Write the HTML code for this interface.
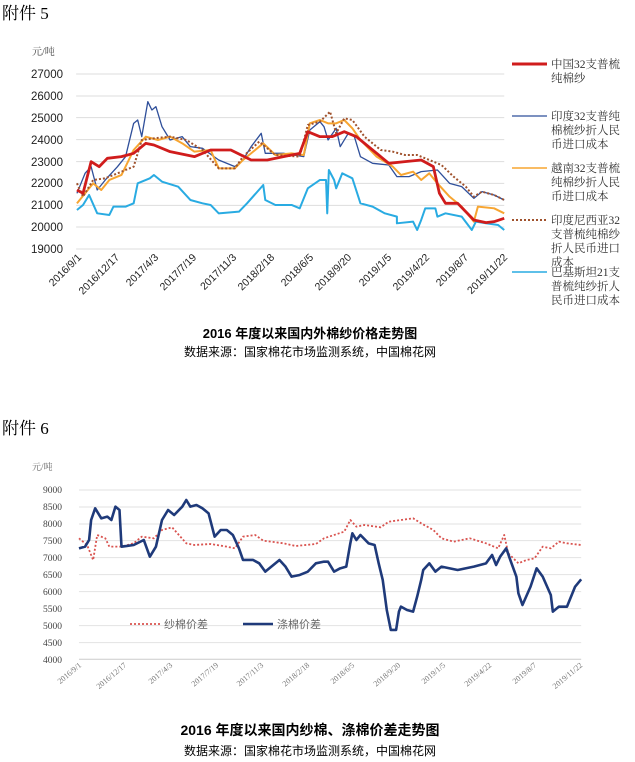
<!DOCTYPE html>
<html><head><meta charset="utf-8"><style>
body{margin:0;background:#fff;}
svg{display:block;font-family:"Liberation Serif","Noto Serif CJK SC",serif;}
</style></head><body>
<svg width="635" height="762" viewBox="0 0 635 762" xmlns="http://www.w3.org/2000/svg">
<rect width="635" height="762" fill="#fff"/>
<text x="2" y="19" font-size="17" fill="#000">附件 5</text>
<text x="2" y="434" font-size="17" fill="#000">附件 6</text>

<!-- Chart 1 -->
<text x="32" y="55" font-size="10" fill="#444">元/吨</text>
<g transform="translate(0,40) scale(0.405,0.3333)">
<g stroke="#ddd" stroke-width="1" vector-effect="non-scaling-stroke">
<line vector-effect="non-scaling-stroke" x1="188" x2="1245" y1="102" y2="102"/><line vector-effect="non-scaling-stroke" x1="188" x2="1245" y1="168" y2="168"/><line vector-effect="non-scaling-stroke" x1="188" x2="1245" y1="233" y2="233"/><line vector-effect="non-scaling-stroke" x1="188" x2="1245" y1="299" y2="299"/><line vector-effect="non-scaling-stroke" x1="188" x2="1245" y1="365" y2="365"/><line vector-effect="non-scaling-stroke" x1="188" x2="1245" y1="430" y2="430"/><line vector-effect="non-scaling-stroke" x1="188" x2="1245" y1="496" y2="496"/><line vector-effect="non-scaling-stroke" x1="188" x2="1245" y1="561" y2="561"/><line vector-effect="non-scaling-stroke" x1="188" x2="1245" y1="627" y2="627"/>
</g>
<g fill="none" stroke-linejoin="round">
<polyline vector-effect="non-scaling-stroke" stroke="#29abe2" stroke-width="2" points="190,510 205,495 220,465 240,520 270,525 280,500 310,500 330,490 340,430 370,415 380,405 400,425 440,440 470,480 500,490 520,495 540,520 590,515 610,490 650,435 655,480 680,495 720,495 740,505 760,445 790,420 805,420 808,520 812,390 825,420 830,445 845,400 870,415 890,490 920,500 950,520 980,530 980,550 1020,545 1030,570 1040,540 1050,505 1075,505 1080,530 1100,520 1140,530 1165,570 1175,545 1200,550 1230,555 1245,570"/>
<polyline vector-effect="non-scaling-stroke" stroke="#2f4f9a" stroke-width="1.3" points="190,460 210,400 225,380 240,450 260,420 290,380 310,350 330,250 340,240 350,290 365,185 375,210 385,200 400,260 420,300 450,290 470,320 500,325 540,360 580,380 600,360 620,320 645,280 655,340 700,340 750,350 765,270 790,245 800,260 810,300 830,265 840,320 860,280 875,290 890,350 920,370 960,375 980,410 1010,410 1040,395 1080,390 1110,430 1140,440 1170,475 1190,455 1220,465 1245,480"/>
<polyline vector-effect="non-scaling-stroke" stroke="#f7a531" stroke-width="2" points="190,490 210,460 230,430 250,450 270,420 300,405 330,330 360,290 390,300 420,290 450,310 480,335 520,330 540,385 580,385 600,360 650,310 680,345 720,340 750,345 765,250 790,240 810,250 830,250 850,240 870,265 890,300 930,350 970,380 990,405 1020,395 1040,420 1060,400 1080,430 1110,470 1140,500 1170,545 1180,500 1220,505 1245,520"/>
<polyline vector-effect="non-scaling-stroke" stroke="#a0522d" stroke-width="2" stroke-dasharray="2,2" points="190,430 205,470 230,420 260,415 300,395 330,380 350,300 380,295 420,290 460,300 500,330 540,385 580,385 600,350 640,305 680,345 740,350 760,255 790,245 815,215 830,280 850,235 870,240 900,290 940,330 970,335 1000,345 1030,345 1060,360 1090,375 1120,410 1150,440 1170,470 1190,455 1220,465 1245,480"/>
<polyline vector-effect="non-scaling-stroke" stroke="#d01c1c" stroke-width="2.8" points="190,450 205,460 225,365 245,380 265,355 300,350 330,340 360,310 380,315 420,335 480,350 520,330 570,330 620,360 660,360 700,350 740,340 760,275 790,290 820,290 850,275 880,290 920,330 960,370 1000,365 1040,360 1070,380 1085,460 1100,490 1130,490 1170,540 1200,548 1220,545 1245,535"/>
</g>
</g>
<g font-size="11.5" fill="#222" text-anchor="end" font-family="Liberation Sans,sans-serif">
<text x="63" y="78">27000</text><text x="63" y="100">26000</text><text x="63" y="122">25000</text><text x="63" y="144">24000</text><text x="63" y="166">23000</text><text x="63" y="187">22000</text><text x="63" y="209">21000</text><text x="63" y="231">20000</text><text x="63" y="253">19000</text>
</g>
<g font-size="10.5" fill="#222" text-anchor="end" font-family="Liberation Sans,sans-serif">
<text transform="translate(82,258) rotate(-45)">2016/9/1</text>
<text transform="translate(120,258) rotate(-45)">2016/12/17</text>
<text transform="translate(159,258) rotate(-45)">2017/4/3</text>
<text transform="translate(197,258) rotate(-45)">2017/7/19</text>
<text transform="translate(237,258) rotate(-45)">2017/11/3</text>
<text transform="translate(275,258) rotate(-45)">2018/2/18</text>
<text transform="translate(314,258) rotate(-45)">2018/6/5</text>
<text transform="translate(352,258) rotate(-45)">2018/9/20</text>
<text transform="translate(392,258) rotate(-45)">2019/1/5</text>
<text transform="translate(430,258) rotate(-45)">2019/4/22</text>
<text transform="translate(469,258) rotate(-45)">2019/8/7</text>
<text transform="translate(508,258) rotate(-45)">2019/11/22</text>
</g>
<g font-size="11.5" fill="#333" font-family="Liberation Serif,Noto Serif CJK SC,serif">
<line x1="512" x2="547" y1="64" y2="64" stroke="#d01c1c" stroke-width="3"/>
<text x="551" y="68">中国32支普梳</text><text x="551" y="82">纯棉纱</text>
<line x1="512" x2="547" y1="116" y2="116" stroke="#2f4f9a" stroke-width="1.3"/>
<text x="551" y="120">印度32支普纯</text><text x="551" y="134">棉梳纱折人民</text><text x="551" y="148">币进口成本</text>
<line x1="512" x2="547" y1="168" y2="168" stroke="#f7a531" stroke-width="1.5"/>
<text x="551" y="172">越南32支普梳</text><text x="551" y="186">纯棉纱折人民</text><text x="551" y="200">币进口成本</text>
<line x1="512" x2="547" y1="220" y2="220" stroke="#a0522d" stroke-width="2" stroke-dasharray="2,2"/>
<text x="551" y="224">印度尼西亚32</text><text x="551" y="238">支普梳纯棉纱</text><text x="551" y="252">折人民币进口</text><text x="551" y="266">成本</text>
<line x1="512" x2="547" y1="272" y2="272" stroke="#29abe2" stroke-width="1.5"/>
<text x="551" y="276">巴基斯坦21支</text><text x="551" y="290">普梳纯纱折人</text><text x="551" y="304">民币进口成本</text>
</g>
<text x="310" y="338" font-size="13" font-weight="bold" text-anchor="middle" font-family="Liberation Sans,Noto Sans CJK SC,sans-serif">2016 年度以来国内外棉纱价格走势图</text>
<text x="310" y="356" font-size="12" text-anchor="middle" font-family="Liberation Sans,Noto Sans CJK SC,sans-serif">数据来源：国家棉花市场监测系统，中国棉花网</text>

<!-- Chart 2 -->
<text x="32" y="470" font-size="9" fill="#666">元/吨</text>
<g transform="translate(0,420) scale(0.405,0.3333)">
<g stroke="#e2e2e2">
<line vector-effect="non-scaling-stroke" x1="195" x2="1435" y1="210" y2="210"/><line vector-effect="non-scaling-stroke" x1="195" x2="1435" y1="261" y2="261"/><line vector-effect="non-scaling-stroke" x1="195" x2="1435" y1="312" y2="312"/><line vector-effect="non-scaling-stroke" x1="195" x2="1435" y1="362" y2="362"/><line vector-effect="non-scaling-stroke" x1="195" x2="1435" y1="413" y2="413"/><line vector-effect="non-scaling-stroke" x1="195" x2="1435" y1="464" y2="464"/><line vector-effect="non-scaling-stroke" x1="195" x2="1435" y1="515" y2="515"/><line vector-effect="non-scaling-stroke" x1="195" x2="1435" y1="566" y2="566"/><line vector-effect="non-scaling-stroke" x1="195" x2="1435" y1="617" y2="617"/><line vector-effect="non-scaling-stroke" x1="195" x2="1435" y1="668" y2="668"/><line vector-effect="non-scaling-stroke" x1="195" x2="1435" y1="718" y2="718" stroke="#ccc"/>
</g>
<g fill="none" stroke-linejoin="round">
<polyline vector-effect="non-scaling-stroke" stroke="#d9534f" stroke-width="1.8" stroke-dasharray="2,2" points="195,355 215,375 230,420 240,345 260,355 270,380 300,380 330,370 350,350 380,355 400,330 425,322 460,370 480,375 520,372 560,380 580,385 600,350 630,345 650,362 700,370 730,378 780,372 800,355 850,335 865,300 880,320 900,315 940,322 960,305 990,300 1020,295 1040,310 1070,330 1090,355 1120,365 1160,355 1200,370 1230,385 1245,345 1255,400 1280,430 1300,420 1320,415 1340,380 1360,385 1380,365 1400,370 1435,375"/>
<polyline vector-effect="non-scaling-stroke" stroke="#1f3a7a" stroke-width="2.6" points="195,385 210,380 220,360 225,300 235,265 250,295 265,290 275,300 285,260 295,270 300,380 330,375 355,360 370,410 385,380 400,300 415,270 430,285 450,260 460,240 470,260 485,255 500,265 515,280 530,350 545,330 560,330 575,345 590,385 600,420 625,420 640,430 655,455 670,440 690,420 705,440 720,470 740,465 760,455 780,430 800,425 810,425 825,455 840,445 855,440 865,370 870,340 880,360 890,345 910,370 925,375 935,430 945,480 955,570 965,630 978,630 985,575 990,560 1005,570 1020,575 1030,530 1040,480 1045,450 1060,430 1075,455 1090,440 1130,450 1170,440 1200,430 1215,405 1225,435 1235,410 1250,385 1260,420 1275,470 1280,520 1290,555 1310,500 1325,445 1340,470 1360,525 1365,575 1380,560 1400,560 1420,500 1435,478"/>
</g>
</g>
<g font-size="9.5" fill="#444" text-anchor="end">
<text x="62" y="493">9000</text><text x="62" y="510">8500</text><text x="62" y="527">8000</text><text x="62" y="544">7500</text><text x="62" y="561">7000</text><text x="62" y="578">6500</text><text x="62" y="595">6000</text><text x="62" y="612">5500</text><text x="62" y="629">5000</text><text x="62" y="646">4500</text><text x="62" y="663">4000</text>
</g>
<g font-size="8" fill="#777" text-anchor="end">
<text transform="translate(82,666) rotate(-40)">2016/9/1</text>
<text transform="translate(127,666) rotate(-40)">2016/12/17</text>
<text transform="translate(173,666) rotate(-40)">2017/4/3</text>
<text transform="translate(219,666) rotate(-40)">2017/7/19</text>
<text transform="translate(264,666) rotate(-40)">2017/11/3</text>
<text transform="translate(310,666) rotate(-40)">2018/2/18</text>
<text transform="translate(355,666) rotate(-40)">2018/6/5</text>
<text transform="translate(401,666) rotate(-40)">2018/9/20</text>
<text transform="translate(446,666) rotate(-40)">2019/1/5</text>
<text transform="translate(492,666) rotate(-40)">2019/4/22</text>
<text transform="translate(537,666) rotate(-40)">2019/8/7</text>
<text transform="translate(583,666) rotate(-40)">2019/11/22</text>
</g>
<line x1="130" x2="160" y1="624" y2="624" stroke="#d9534f" stroke-width="1.8" stroke-dasharray="2,2"/>
<text x="164" y="628" font-size="11" fill="#666" font-family="Liberation Sans,Noto Sans CJK SC,sans-serif">纱棉价差</text>
<line x1="243" x2="273" y1="624" y2="624" stroke="#1f3a7a" stroke-width="2.6"/>
<text x="277" y="628" font-size="11" fill="#666" font-family="Liberation Sans,Noto Sans CJK SC,sans-serif">涤棉价差</text>
<text x="310" y="735" font-size="14" font-weight="bold" text-anchor="middle" font-family="Liberation Sans,Noto Sans CJK SC,sans-serif">2016 年度以来国内纱棉、涤棉价差走势图</text>
<text x="310" y="755" font-size="12" text-anchor="middle" font-family="Liberation Sans,Noto Sans CJK SC,sans-serif">数据来源：国家棉花市场监测系统，中国棉花网</text>
</svg>
</body></html>
